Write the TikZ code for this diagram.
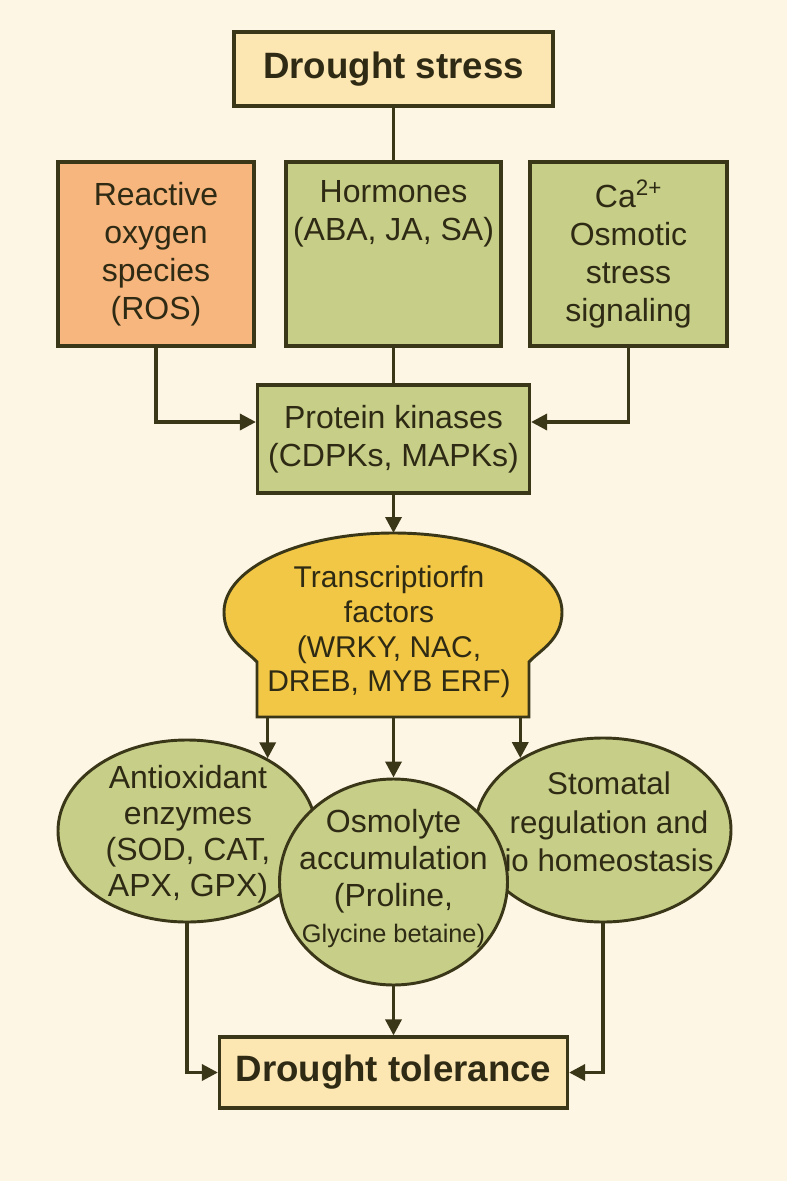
\documentclass[tikz,border=0pt]{standalone}
\usepackage{fontspec}
\setmainfont{Liberation Sans}
\usetikzlibrary{arrows.meta,shapes.geometric,calc}
\definecolor{bg}{HTML}{FDF6E4}
\definecolor{ink}{HTML}{3A3618}
\definecolor{boxy}{HTML}{FCE6B2}
\definecolor{orng}{HTML}{F7B67E}
\definecolor{grn}{HTML}{C6CE88}
\definecolor{tfy}{HTML}{F2C745}
\definecolor{txt}{HTML}{2E2A14}
\begin{document}
\begin{tikzpicture}[x=0.75pt,y=-0.75pt,
 box/.style={draw=ink,line width=2.4pt,rectangle,inner sep=0pt,align=center,text=txt,font=\fontsize{24}{28.5}\selectfont},
 ell/.style={draw=ink,line width=2.2pt,ellipse,inner sep=0pt,fill=grn},
 lbl/.style={align=center,text=txt,font=\fontsize{24}{28}\selectfont,inner sep=0pt},
 conn/.style={draw=ink,line width=2.6pt},
 arr/.style={conn,-{Triangle[length=12pt,width=12pt]}}]
\fill[bg] (0,0) rectangle (787,1181);
% top
\node[box,fill=boxy,minimum width=239.25pt,minimum height=55.5pt,font=\bfseries\fontsize{27.5}{32}\selectfont] (ds) at (393.5,69) {Drought stress};
\node[box,fill=orng,minimum width=147pt,minimum height=138pt] (ros) at (156,254) {Reactive\\oxygen\\species\\(ROS)};
\node[box,fill=grn,minimum width=161.25pt,minimum height=138pt] (hor) at (393.5,254) {};
\node[lbl,font=\fontsize{24}{28.5}\selectfont] (horl) at (393.5,214) {Hormones\\(ABA, JA, SA)};
\node[box,fill=grn,minimum width=147.75pt,minimum height=138pt] (ca) at (628.5,254) {Ca\textsuperscript{2+}\\Osmotic\\stress\\signaling};
\node[box,fill=grn,minimum width=204pt,minimum height=81pt] (pk) at (393.5,439) {Protein kinases\\(CDPKs, MAPKs)};
\draw[conn] (ds.south) -- (hor.north);
\draw[conn] (hor.south) -- (pk.north);
\draw[arr] (ros.south) |- ([yshift=12.75pt]pk.west);
\draw[arr] (ca.south) |- ([yshift=12.75pt]pk.east);
% transcription factors
\coordinate (tftop) at (393.5,533);
\coordinate (tfb) at (393.5,717);
\draw[draw=ink,line width=2.2pt,fill=tfy] (257,717) -- (257,662) .. controls (246,650) and (224,640) .. (224,612) .. controls (224,568) and (300,533) .. (393.5,533) .. controls (487,533) and (562,568) .. (562,612) .. controls (562,640) and (540,650) .. (529,662) -- (529,717) -- cycle;
\node[lbl,font=\fontsize{22.5}{26}\selectfont] (tf) at (389,632) {Transcriptiorfn\\factors\\(WRKY, NAC,\\DREB, MYB ERF)};
\draw[arr] (pk.south) -- (tftop);
% ellipses
\node[ell,minimum width=193.5pt,minimum height=136.5pt] (anti) at (187,831) {};
\node[ell,minimum width=192pt,minimum height=138pt] (sto) at (603,830) {};
\node[ell,minimum width=171pt,minimum height=154.5pt] (osm) at (393.5,882) {};
\node[lbl,font=\fontsize{24}{27}\selectfont] (antil) at (188,834) {Antioxidant\\enzymes\\(SOD, CAT,\\APX, GPX)};
\node[lbl,font=\fontsize{24}{27.5}\selectfont] (osml) at (393.5,879) {Osmolyte\\accumulation\\(Proline,\\{\fontsize{19}{24}\selectfont Glycine betaine)}};
\node[lbl,font=\fontsize{23.5}{29}\selectfont] (stol) at (609,822) {Stomatal\\regulation and\\io homeostasis};
\draw[arr] (tfb -| anti.42) -- (anti.42);
\draw[arr] (tfb) -- (osm.north);
\draw[arr] (tfb -| sto.139) -- (sto.139);
% bottom
\node[box,fill=boxy,minimum width=261pt,minimum height=53.25pt,font=\bfseries\fontsize{27.5}{32}\selectfont] (dt) at (393.5,1072.5) {Drought tolerance};
\draw[arr] (anti.south) |- (dt.west);
\draw[arr] (osm.south) -- (dt.north);
\draw[arr] (sto.south) |- (dt.east);
\end{tikzpicture}
\end{document}
